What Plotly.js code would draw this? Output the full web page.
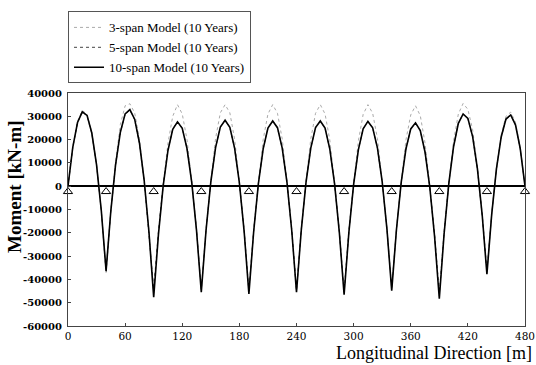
<!DOCTYPE html>
<html>
<head>
<meta charset="utf-8">
<script src="https://cdn.plot.ly/plotly-3.0.1.min.js"></script>
<style>html,body{margin:0;padding:0;background:#fff;}#chart{width:536px;height:365px;}</style>
</head>
<body>
<div id="chart"></div>
<script>
// Longitudinal position [m], every 5 m
const xPos = [0,5,10,15,20,25,30,35,
  40,45,50,55,60,65,70,75,80,85,
  90,95,100,105,110,115,120,125,130,135,
  140,145,150,155,160,165,170,175,180,185,
  190,195,200,205,210,215,220,225,230,235,
  240,245,250,255,260,265,270,275,280,285,
  290,295,300,305,310,315,320,325,330,335,
  340,345,350,355,360,365,370,375,380,385,
  390,395,400,405,410,415,420,425,430,435,
  440,445,450,455,460,465,470,475,480];

// 3-span model (10 years) moment [kN-m]
const m3span = [0,16900,27800,32500,30900,23200,9400,-10300,
  -35500,-10300,10500,26500,34500,35400,31500,20500,3000,-19000,
  -46000,-20000,400,18500,30000,35000,31000,20000,2000,-18500,
  -44500,-18500,2200,20500,31500,35000,31500,20200,1800,-19000,
  -45000,-19000,1500,20000,31000,35000,31300,20300,2000,-18500,
  -44500,-18500,2000,20300,31300,35000,31000,19800,1300,-19300,
  -45500,-19500,1000,19500,30800,35000,31300,20500,2400,-18000,
  -43800,-18200,2100,20000,30600,34500,30300,18600,-200,-21000,
  -47000,-20000,1500,19500,31000,35500,33000,24200,8500,-11800,
  -37000,-11800,8000,22000,30000,31800,27400,16800,0];

// 5-span model (10 years) moment [kN-m]
const m5span = [0,16600,27200,31800,30300,22700,9100,-10600,
  -37000,-10700,9200,23000,30900,32700,28600,18500,2400,-19700,
  -44000,-19500,800,15500,24500,27700,24900,16200,1600,-18500,
  -44500,-18600,1900,16600,25400,28200,25200,16200,1300,-19000,
  -45000,-19200,1300,16100,25000,28000,25100,16300,1600,-18800,
  -44800,-18700,1700,16400,25100,27900,24900,15900,1000,-19500,
  -45500,-19500,900,15700,24700,27800,25000,16400,1900,-18300,
  -44000,-18300,1800,16100,24600,27200,23900,14700,-400,-20800,
  -46000,-20000,1400,17200,27000,31000,29000,21200,7400,-12300,
  -36500,-11900,7500,21100,28800,30500,26300,16100,0];

// 10-span model (10 years) moment [kN-m]
const m10span = [0,16700,27340,31910,30400,22830,9180,-10540,
  -36400,-10560,9300,23160,31020,32890,28770,18650,2540,-19570,
  -47600,-20690,280,15320,24430,27600,24830,16130,1500,-19080,
  -45500,-18900,1790,16560,25390,28300,25280,16320,1440,-19380,
  -46200,-19560,1190,16040,24970,28000,25120,16320,1620,-19000,
  -45500,-18970,1660,16360,25140,28000,24930,15940,1020,-19830,
  -46600,-19950,800,15670,24670,27800,25050,16420,1920,-18450,
  -44800,-18600,1700,16100,24590,27190,23890,14680,-420,-21430,
  -48300,-20610,1180,17050,26990,31010,29100,21270,7510,-12170,
  -37800,-12190,7450,21120,28830,30570,26350,16160,0];

// Support positions [m] and symbol level
const supportX = [0,40,90,140,190,240,290,340,390,440,480];
const supportY = [-2300,-2300,-2300,-2300,-2300,-2300,-2300,-2300,-2300,-2300,-2300];

const seriesNames = ['3-span Model (10 Years)','5-span Model (10 Years)','10-span Model (10 Years)'];
const yTicks = [-60000,-50000,-40000,-30000,-20000,-10000,0,10000,20000,30000,40000];
const yTickText = ['-60000','-50000','-40000','-30000','-20000','-10000','0','10000','20000','30000','40000'];
const xTicks = [0,60,120,180,240,300,360,420,480];
const xTickText = ['0','60','120','180','240','300','360','420','480'];

const traces = [
  {x: xPos, y: m3span, name: seriesNames[0], type: 'scatter', mode: 'lines',
   line: {color: '#aaa', width: 1, dash: 'dot'}},
  {x: xPos, y: m5span, name: seriesNames[1], type: 'scatter', mode: 'lines',
   line: {color: '#444', width: 1, dash: '3px,3px'}},
  {x: xPos, y: m10span, name: seriesNames[2], type: 'scatter', mode: 'lines',
   line: {color: '#000', width: 1.6}},
  {x: supportX, y: supportY, type: 'scatter', mode: 'markers', showlegend: false, cliponaxis: false,
   marker: {symbol: 'triangle-up-open', size: 8, color: '#000', line: {width: 1, color: '#000'}}}
];

const layout = {
  width: 536, height: 365,
  margin: {l: 68, r: 11, t: 89, b: 39},
  paper_bgcolor: '#fff', plot_bgcolor: '#fff',
  showlegend: true,
  legend: {x: 0, y: 1.35, xanchor: 'left', yanchor: 'top',
    bordercolor: '#555', borderwidth: 1, bgcolor: '#fff',
    font: {family: 'Liberation Serif', size: 13, color: '#000'}},
  xaxis: {range: [0, 480], tickvals: xTicks, ticktext: xTickText, showgrid: false, zeroline: false,
    showline: true, mirror: true, linecolor: '#444', linewidth: 1,
    ticks: 'inside', ticklen: 3, tickcolor: '#444', ticklabelstandoff: 0,
    tickfont: {family: 'DejaVu Serif', size: 10.5, color: '#000'}},
  yaxis: {range: [-60000, 40000], tickvals: yTicks, ticktext: yTickText, showgrid: false,
    zeroline: true, zerolinecolor: '#000', zerolinewidth: 1.5,
    showline: true, mirror: true, linecolor: '#444', linewidth: 1,
    ticks: 'inside', ticklen: 3, tickcolor: '#444', ticklabelstandoff: 3,
    tickfont: {family: 'DejaVu Serif', size: 10, color: '#000', weight: 'bold'}},
  annotations: [
    {text: 'Longitudinal Direction [m]', xref: 'paper', yref: 'paper',
     x: 1.02, y: -0.117, xanchor: 'right', yanchor: 'middle', showarrow: false,
     font: {family: 'Liberation Serif', size: 18, color: '#000'}},
    {text: 'Moment [kN-m]', xref: 'paper', yref: 'paper', textangle: -90,
     x: -0.117, y: 0.595, xanchor: 'center', yanchor: 'middle', showarrow: false,
     font: {family: 'Liberation Serif', size: 19, color: '#000', weight: 'bold'}}
  ]
};

Plotly.newPlot('chart', traces, layout, {displayModeBar: false, staticPlot: true});
</script>
</body>
</html>
